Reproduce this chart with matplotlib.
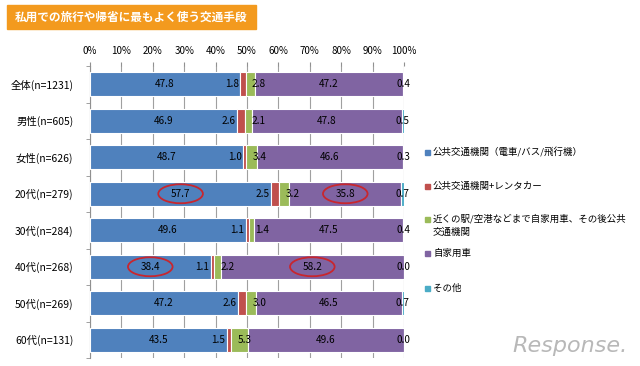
import matplotlib
matplotlib.use("Agg")
import matplotlib.pyplot as plt
from matplotlib.patches import Ellipse, Rectangle

plt.rcParams['font.family'] = ['Noto Sans CJK JP', 'DejaVu Sans']

# data
groups = ['全体(n=1231)', '男性(n=605)', '女性(n=626)', '20代(n=279)',
          '30代(n=284)', '40代(n=268)', '50代(n=269)', '60代(n=131)']
public = [47.8, 46.9, 48.7, 57.7, 49.6, 38.4, 47.2, 43.5]
rental = [1.8, 2.6, 1.0, 2.5, 1.1, 1.1, 2.6, 1.5]
parkride = [2.8, 2.1, 3.4, 3.2, 1.4, 2.2, 3.0, 5.3]
car = [47.2, 47.8, 46.6, 35.8, 47.5, 58.2, 46.5, 49.6]
other = [0.4, 0.5, 0.3, 0.7, 0.4, 0.0, 0.7, 0.0]

series_names = ['公共交通機関（電車/バス/飛行機）', '公共交通機関+レンタカー',
                '近くの駅/空港などまで自家用車、その後公共\n交通機関', '自家用車', 'その他']
colors = ['#4F81BD', '#C0504D', '#9BBB59', '#8064A2', '#4BACC6']
# highlighted values: (row, series)
circled = [(3, 0), (3, 3), (5, 0), (5, 3)]

fig = plt.figure(figsize=(6.4, 3.66), dpi=100)
ax = fig.add_axes([90/640, 1-358/366, 314/640, 292/366])

series = [public, rental, parkride, car, other]
y = list(range(len(groups)))
left = [0.0]*len(groups)
lefts = []
for vals, c in zip(series, colors):
    ax.barh(y, vals, left=left, height=0.66, color=c, edgecolor='white',
            linewidth=0.8, zorder=3)
    lefts.append(list(left))
    left = [l + v for l, v in zip(left, vals)]

# value labels
for si, vals in enumerate(series):
    for i, v in enumerate(vals):
        l = lefts[si][i]
        if si == 1:
            ax.text(l - 0.4, i, f'{v:.1f}', ha='right', va='center', fontsize=7.2, zorder=5)
        elif si == 2:
            ax.text(l + 2.0, i, f'{v:.1f}', ha='left', va='center', fontsize=7.2, zorder=5)
        else:
            ax.text(l + v/2, i, f'{v:.1f}', ha='center', va='center', fontsize=7.2, zorder=5)

for i, si in circled:
    cx = lefts[si][i] + series[si][i]/2
    ax.add_patch(Ellipse((cx, i), 14.2, 0.52, fill=False, edgecolor='#C8262E',
                         linewidth=1.3, zorder=6))

ax.set_xlim(0, 100)
ax.set_ylim(len(groups) - 0.5, -0.5)
ax.set_xticks(range(0, 101, 10))
ax.set_xticklabels([f'{t}%' for t in range(0, 101, 10)], fontsize=7)
ax.xaxis.tick_top()
ax.tick_params(axis='x', length=3, color='#909090', pad=4)
ax.set_yticks(y)
ax.set_yticklabels(groups, fontsize=7.5)
ax.set_yticks([k + 0.5 for k in range(-1, len(groups))], minor=True)
ax.tick_params(axis='y', which='major', length=0, pad=12)
ax.tick_params(axis='y', which='minor', length=3, color='#909090')
ax.grid(axis='x', color='#A0A0A0', linewidth=0.8, zorder=0)
for s in ['top', 'right', 'bottom']:
    ax.spines[s].set_visible(False)
ax.spines['left'].set_color('#909090')

# legend drawn by hand
leg_y = [152, 186, 220, 253, 288]
for name, c, yy in zip(series_names, colors, leg_y):
    fig.patches.append(Rectangle((425/640, 1-(yy+2.5)/366), 5/640, 5/366,
                                 transform=fig.transFigure, color=c))
    if '\n' in name:
        fig.text(433/640, 1-(yy-6)/366, name, ha='left', va='top', fontsize=6.8,
                 linespacing=1.5)
    else:
        fig.text(433/640, 1-yy/366, name, ha='left', va='center', fontsize=6.8)

# title box
fig.patches.append(Rectangle((7/640, 1-29/366), 249/640, 24/366,
                             transform=fig.transFigure, color='#F39A1E'))
fig.text(131/640, 1-17/366, '私用での旅行や帰省に最もよく使う交通手段', ha='center',
         va='center', color='white', fontsize=8.4, fontweight='bold')

fig.text(628/640, 1-346/366, 'Response.', ha='right', va='center', fontsize=16,
         color='#B8B8B8', style='italic', family='DejaVu Sans')

fig.savefig('out.png', dpi=100)
